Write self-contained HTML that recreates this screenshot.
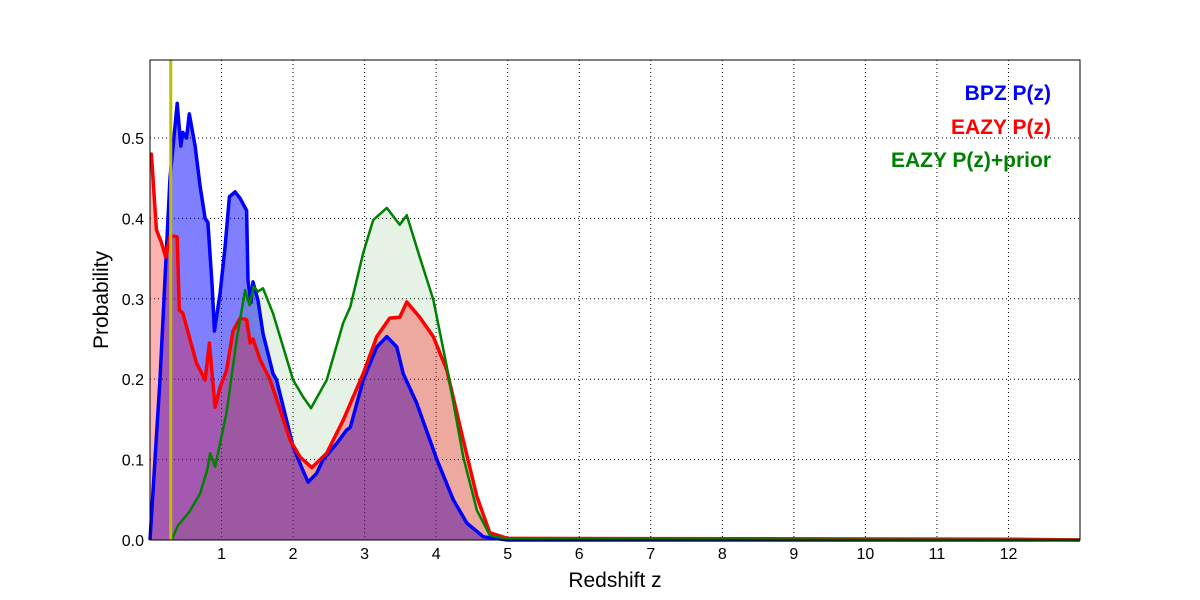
<!DOCTYPE html>
<html><head><meta charset="utf-8"><style>
html,body{margin:0;padding:0;background:#fff;}
svg{display:block;font-family:"Liberation Sans","DejaVu Sans",sans-serif;}
</style></head><body>
<svg id="chart" width="1200" height="600" viewBox="0 0 1200 600">
<rect x="150" y="60" width="930" height="480" fill="#fff"/>
<g id="grid"></g>
<g id="fills"></g>
<g id="lines"></g>
<rect x="150" y="60" width="930" height="480" fill="none" stroke="#000" stroke-width="1"/>
<g id="ticks"></g>
<text x="615" y="587" font-size="21" text-anchor="middle">Redshift z</text>
<text x="108" y="300" font-size="21" text-anchor="middle" transform="rotate(-90 108 300)">Probability</text>
<g font-weight="bold" font-size="21" text-anchor="end">
<text x="1051" y="100" fill="#0000ff">BPZ P(z)</text>
<text x="1051" y="134" fill="#ff0000">EAZY P(z)</text>
<text x="1051" y="167" fill="#008000">EAZY P(z)+prior</text>
</g>
</svg>
<script>
const xTicks=[1,2,3,4,5,6,7,8,9,10,11,12];
const yTicks=[0.0,0.1,0.2,0.3,0.4,0.5];
const yTickLabels=["0.0","0.1","0.2","0.3","0.4","0.5"];
const specZ=0.29;
const bpzZ=[0,0.14,0.28,0.38,0.43,0.46,0.51,0.55,0.63,0.70,0.77,0.81,0.87,0.90,0.98,1.05,1.11,1.19,1.26,1.35,1.37,1.41,1.44,1.51,1.58,1.72,1.77,2.0,2.12,2.21,2.33,2.42,2.61,2.75,2.8,2.98,3.17,3.31,3.45,3.54,3.73,4.01,4.24,4.43,4.66,5,13];
const bpzP=[0,0.2,0.45,0.543,0.49,0.507,0.5,0.53,0.49,0.44,0.4,0.395,0.315,0.26,0.307,0.365,0.427,0.433,0.425,0.41,0.323,0.295,0.321,0.298,0.257,0.207,0.199,0.116,0.09,0.072,0.083,0.1,0.12,0.137,0.14,0.199,0.24,0.253,0.24,0.207,0.17,0.1,0.05,0.021,0.004,0,0];
const eazyZ=[0,0.02,0.09,0.16,0.22,0.28,0.33,0.38,0.41,0.46,0.56,0.65,0.77,0.83,0.91,0.98,1.07,1.16,1.26,1.35,1.40,1.44,1.54,1.68,1.96,2.10,2.26,2.47,2.70,2.98,3.17,3.35,3.49,3.59,3.77,3.96,4.15,4.38,4.57,4.75,5,12,13];
const eazyP=[0.48,0.48,0.386,0.37,0.352,0.377,0.378,0.377,0.286,0.282,0.249,0.22,0.199,0.245,0.165,0.19,0.211,0.26,0.276,0.274,0.245,0.25,0.224,0.199,0.124,0.103,0.09,0.108,0.149,0.207,0.253,0.276,0.277,0.296,0.277,0.253,0.211,0.124,0.054,0.009,0.002,0.001,0];
const priorZ=[0.3,0.39,0.55,0.70,0.80,0.84,0.91,1.07,1.21,1.33,1.39,1.45,1.51,1.58,1.72,2.0,2.14,2.25,2.47,2.70,2.80,2.98,3.12,3.31,3.49,3.59,3.77,3.96,4.15,4.38,4.57,4.75,5,13];
const priorP=[0,0.018,0.035,0.058,0.087,0.108,0.091,0.158,0.249,0.311,0.292,0.315,0.309,0.313,0.282,0.199,0.178,0.164,0.199,0.27,0.29,0.357,0.398,0.413,0.392,0.404,0.352,0.299,0.215,0.103,0.037,0.006,0.001,0];

const X0=150,X1=1080,Y0=540,Y1=60,ZMAX=13,PMAX=(540-60)/804;
const xs=z=>X0+z/ZMAX*(X1-X0);
const ys=p=>Y0-p/PMAX*(Y0-Y1);
const NS="http://www.w3.org/2000/svg";
function mk(tag,attrs,parent){const e=document.createElementNS(NS,tag);for(const k in attrs)e.setAttribute(k,attrs[k]);parent.appendChild(e);return e;}
const grid=document.getElementById('grid'),ticks=document.getElementById('ticks'),fills=document.getElementById('fills'),lines=document.getElementById('lines');
xTicks.forEach(t=>{
  const g=mk('line',{x1:xs(t),x2:xs(t),y1:Y1,y2:Y0,stroke:'#000','stroke-width':1,'stroke-dasharray':'1,3'},grid);
  
  
  const tl=mk('text',{x:xs(t),y:Y0+19,'font-size':16,'text-anchor':'middle'},ticks);
  tl.textContent=String(t);
  
  
});
yTicks.forEach((t,i)=>{
  const g=mk('line',{x1:X0,x2:X1,y1:ys(t),y2:ys(t),stroke:'#000','stroke-width':1,'stroke-dasharray':'1,3'},grid);
  
  
  const tl=mk('text',{x:X0-6,y:ys(t)+6,'font-size':16,'text-anchor':'end'},ticks);
  tl.textContent=yTickLabels[i];
  
  
});
function pts(Z,P){return Z.map((z,i)=>xs(z).toFixed(1)+','+ys(P[i]).toFixed(1)).join(' ');}
function area(Z,P){return xs(Z[0]).toFixed(1)+','+ys(0)+' '+pts(Z,P)+' '+xs(Z[Z.length-1]).toFixed(1)+','+ys(0);}
const series=[
 {n:'bpz',Z:bpzZ,P:bpzP,fill:'rgba(0,0,255,0.5)',stroke:'#0000ff',w:3.5},
 {n:'eazy-prior',Z:priorZ,P:priorP,fill:'rgba(0,128,0,0.1)',stroke:'#008000',w:2.5},
 {n:'eazy',Z:eazyZ,P:eazyP,fill:'rgba(255,0,0,0.3)',stroke:'#ff0000',w:3.5}
];
series.forEach(s=>{
  const f=mk('polygon',{points:area(s.Z,s.P),fill:s.fill,stroke:'none'},fills);
  
  
});
[series[0],series[2],series[1]].forEach(s=>{
  const l=mk('polyline',{points:pts(s.Z,s.P),fill:'none',stroke:s.stroke,'stroke-width':s.w,'stroke-linejoin':'round'},lines);
  
  
});
const sl=mk('line',{x1:xs(specZ),x2:xs(specZ),y1:Y1,y2:Y0,stroke:'#bfbf00','stroke-width':3},lines);


</script>
</body></html>
